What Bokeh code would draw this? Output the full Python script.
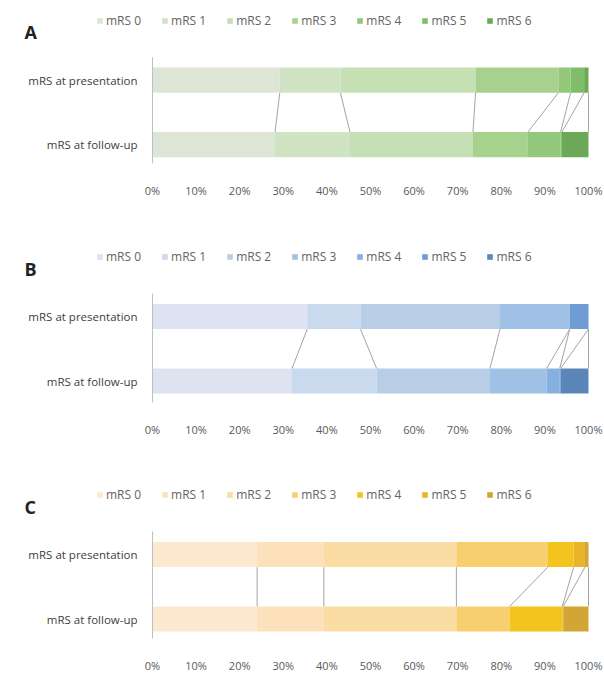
from bokeh.plotting import figure
from bokeh.models import Legend, LegendItem, FixedTicker, Range1d, Label
from bokeh.core.properties import value
from bokeh.layouts import column
from bokeh.embed import file_html
from bokeh.resources import INLINE

# ---------------- data ----------------
categories = ["mRS at follow-up", "mRS at presentation"]
levels = ["mRS 0", "mRS 1", "mRS 2", "mRS 3", "mRS 4", "mRS 5", "mRS 6"]
x_ticks = [0, 10, 20, 30, 40, 50, 60, 70, 80, 90, 100]
x_tick_labels = ["0%", "10%", "20%", "30%", "40%", "50%", "60%", "70%", "80%", "90%", "100%"]

pres_A = [29.2, 13.9, 31.0, 19.0, 2.8, 3.1, 1.0]
fu_A = [28.1, 17.2, 28.2, 12.6, 7.5, 0.3, 6.1]
pres_B = [35.5, 12.2, 32.0, 16.0, 0.0, 4.3, 0.0]
fu_B = [32.0, 19.4, 26.0, 13.0, 3.0, 0.2, 6.4]
pres_C = [24.0, 15.3, 30.4, 21.0, 5.9, 2.6, 0.8]
fu_C = [24.0, 15.3, 30.4, 12.2, 12.1, 0.2, 5.8]

greens = ["#dde6d6", "#d0e4c4", "#c4e0b4", "#a6d28e", "#93c77b", "#80bd68", "#6ba858"]
blues = ["#dde3f1", "#c9d9ee", "#b8cde6", "#9fc1e5", "#86b1de", "#6f9cd2", "#5b86ba"]
yellows = ["#fde9d0", "#fce1bb", "#fbdca3", "#f8cf6e", "#f3c41e", "#e8b52a", "#d1a637"]

FONT = "Open Sans"
BAR_H = 0.39
U = 64.5          # pixels per category step
W = 604
X0_PX, X100_PX = 152, 588


def cumulative(vals):
    out, s = [], 0.0
    for v in vals:
        s += v
        out.append(s)
    return out


def make_panel(letter, pres, fu, colors, height, P, bottom):
    H = height - bottom                 # frame height (frame starts at top)
    ppu = (X100_PX - X0_PX) / 100.0
    xr = Range1d(-X0_PX / ppu, 100 + (W - X100_PX) / ppu)
    yr = Range1d(1 - (H - P) / U, 1 + P / U)
    p = figure(width=W, height=height, x_range=xr, y_range=yr,
               output_backend="svg", toolbar_location=None,
               min_border_left=0, min_border_right=0,
               min_border_top=0, min_border_bottom=bottom)
    p.outline_line_color = None
    p.grid.visible = False
    p.background_fill_color = "white"
    p.border_fill_color = "white"

    y_pres = categories.index("mRS at presentation")
    y_fu = categories.index("mRS at follow-up")

    cp = cumulative(pres)
    cf = cumulative(fu)
    items = []
    for k, lev in enumerate(levels):
        lp = cp[k] - pres[k]
        lf = cf[k] - fu[k]
        r = p.hbar(y=[y_pres, y_fu], left=[lp, lf], right=[cp[k], cf[k]],
                   height=BAR_H, fill_color=colors[k], line_color=None)
        items.append(LegendItem(label=lev, renderers=[r]))

    # series lines
    p.segment(x0=cp, y0=[y_pres - BAR_H / 2] * len(cp), x1=cf,
              y1=[y_fu + BAR_H / 2] * len(cf), line_color="#a4a4a4", line_width=1)

    # category axis (line + labels)
    p.segment(x0=[0], y0=[yr.start], x1=[0], y1=[1 + 23 / U],
              line_color="#bfbfbf", line_width=1)
    p.text(x=[0, 0], y=[y_fu, y_pres], text=categories, x_offset=-15,
           text_align="right", text_baseline="middle", text_font=value(FONT),
           text_font_size="11.5px", text_color="#404040")

    # x axis
    p.yaxis.visible = False
    p.xaxis.ticker = FixedTicker(ticks=x_ticks)
    p.xaxis.major_label_overrides = {t: l for t, l in zip(x_ticks, x_tick_labels)}
    p.xaxis.axis_line_color = None
    p.xaxis.major_tick_line_color = None
    p.xaxis.minor_tick_line_color = None
    p.xaxis.major_label_text_font = FONT
    p.xaxis.major_label_text_font_size = "11px"
    p.xaxis.major_label_text_color = "#595959"
    p.xaxis.major_label_standoff = 13

    lab = Label(x=-(X0_PX - 24) / ppu, y=1 + 48 / U, text=letter, text_font=FONT,
                text_font_size="18px", text_font_style="bold", text_color="#222222",
                text_baseline="middle", text_align="left")
    p.add_layout(lab)

    legend = Legend(items=items, orientation="horizontal",
                    location=(96, (H - P) + 51),
                    glyph_width=7, glyph_height=7, label_standoff=3, spacing=20,
                    padding=0, margin=0, border_line_color=None,
                    background_fill_alpha=0, label_text_font=FONT,
                    label_text_font_size="12px", label_text_color="#646464",
                    label_height=12)
    p.add_layout(legend, "center")
    return p


pA = make_panel("A", pres_A, fu_A, greens, 245, 79.7, 82)
pB = make_panel("B", pres_B, fu_B, blues, 237, 71, 80)
pC = make_panel("C", pres_C, fu_C, yellows, 195, 72, 39)

layout = column(pA, pB, pC, spacing=0)
open("out.html", "w").write(file_html(layout, INLINE))
